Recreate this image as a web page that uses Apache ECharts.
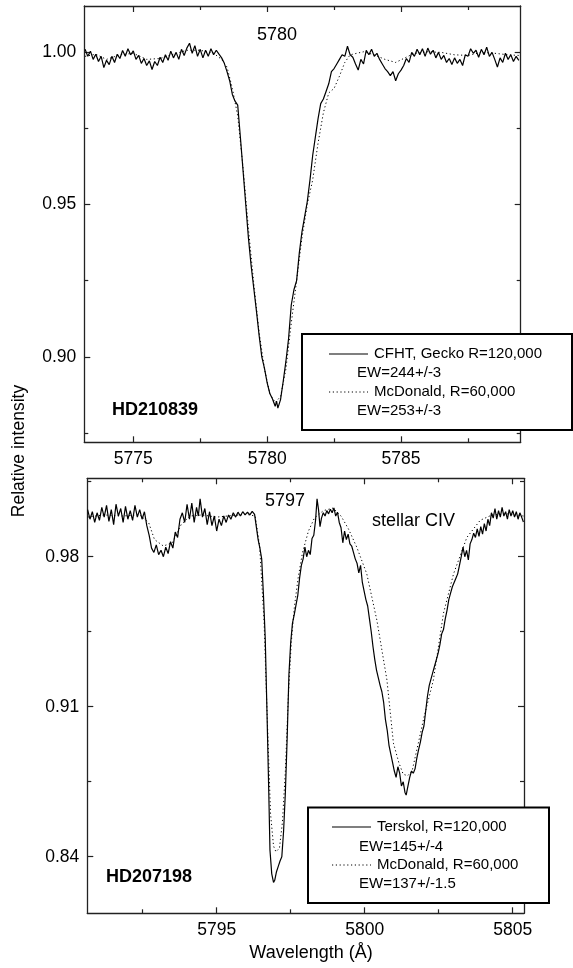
<!DOCTYPE html>
<html>
<head>
<meta charset="utf-8">
<script src="https://cdn.jsdelivr.net/npm/echarts@6/dist/echarts.min.js"></script>
<style>
html,body{margin:0;padding:0;background:#fff;}
#c{width:573px;height:968px;}
</style>
</head>
<body>
<div id="c"></div>
<script>
// ---------- DATA ----------
// Top panel: HD210839, 5780 band
const topXMajor = [5775, 5780, 5785];
const topXMinor = [5777.5, 5782.5, 5787.5];
const topYMajor = [0.90, 0.95, 1.00];
const topYMinor = [0.875, 0.925, 0.975];
const topXRange = [5773.17, 5789.47];
const topYRange = [0.872, 1.015];

const topSolid = [
[5773.2,1.0008],[5773.3,0.9985],[5773.4,1.0002],[5773.5,0.9975],[5773.6,0.9992],[5773.7,0.9968],[5773.8,0.9985],[5773.9,0.9948],
[5774.0,0.9972],[5774.1,0.9958],[5774.2,0.9985],[5774.3,0.9965],[5774.4,0.9992],[5774.5,0.9978],[5774.6,1.0004],[5774.7,0.9985],
[5774.8,1.0010],[5774.9,0.9990],[5775.0,1.0003],[5775.1,0.9975],[5775.2,0.9988],[5775.3,0.9962],[5775.4,0.9978],[5775.5,0.9955],
[5775.6,0.9970],[5775.7,0.9942],[5775.8,0.9968],[5775.9,0.9955],[5776.0,0.9982],[5776.1,0.9965],[5776.2,0.9990],[5776.3,0.9972],
[5776.4,1.0002],[5776.5,0.9980],[5776.6,0.9998],[5776.7,0.9975],[5776.8,1.0008],[5776.9,0.9988],[5777.0,1.0012],[5777.1,1.0028],
[5777.2,0.9995],[5777.3,1.0020],[5777.4,0.9985],[5777.5,1.0008],[5777.6,0.9980],[5777.7,1.0005],[5777.8,0.9985],[5777.9,1.0010],
[5778.0,0.9990],[5778.1,1.0005],[5778.2,0.9992],[5778.3,0.9980],[5778.4,0.9962],[5778.5,0.9935],[5778.6,0.9905],[5778.7,0.9860],
[5778.8,0.9838],[5778.9,0.9825],[5779.0,0.9720],[5779.1,0.9610],[5779.2,0.9500],[5779.3,0.9390],[5779.4,0.9300],[5779.5,0.9225],
[5779.6,0.9150],[5779.7,0.9070],[5779.8,0.9000],[5779.9,0.8962],[5780.0,0.8915],[5780.1,0.8880],[5780.2,0.8862],[5780.3,0.8838],
[5780.35,0.8855],[5780.4,0.8832],[5780.5,0.8860],[5780.6,0.8920],[5780.7,0.8985],[5780.8,0.9060],[5780.9,0.9170],[5781.0,0.9220],
[5781.1,0.9250],[5781.2,0.9340],[5781.3,0.9410],[5781.4,0.9460],[5781.5,0.9510],[5781.6,0.9580],[5781.7,0.9660],[5781.8,0.9720],
[5781.9,0.9780],[5782.0,0.9830],[5782.1,0.9845],[5782.2,0.9870],[5782.3,0.9895],[5782.4,0.9935],[5782.5,0.9945],[5782.6,0.9960],
[5782.7,0.9975],[5782.8,0.9990],[5782.9,0.9985],[5783.0,1.0018],[5783.1,0.9990],[5783.2,0.9982],[5783.3,0.9960],[5783.4,0.9940],
[5783.5,0.9975],[5783.6,0.9960],[5783.7,1.0005],[5783.8,0.9990],[5783.9,1.0008],[5784.0,0.9985],[5784.1,0.9995],[5784.2,0.9975],
[5784.3,0.9960],[5784.4,0.9945],[5784.5,0.9935],[5784.6,0.9922],[5784.7,0.9935],[5784.8,0.9905],[5784.9,0.9928],[5785.0,0.9940],
[5785.1,0.9955],[5785.2,0.9978],[5785.3,0.9965],[5785.4,0.9998],[5785.5,0.9985],[5785.6,1.0008],[5785.7,0.9990],[5785.8,1.0010],
[5785.9,0.9985],[5786.0,1.0012],[5786.1,0.9992],[5786.2,1.0005],[5786.3,0.9980],[5786.4,0.9998],[5786.5,0.9975],[5786.6,0.9988],
[5786.7,0.9965],[5786.8,0.9978],[5786.9,0.9958],[5787.0,0.9980],[5787.1,0.9962],[5787.2,0.9975],[5787.3,0.9955],[5787.4,0.9990],
[5787.5,0.9985],[5787.6,1.0010],[5787.7,0.9995],[5787.8,1.0005],[5787.9,0.9982],[5788.0,1.0008],[5788.1,0.9990],[5788.2,1.0015],
[5788.3,0.9985],[5788.4,0.9998],[5788.5,0.9975],[5788.6,0.9950],[5788.7,0.9980],[5788.8,0.9965],[5788.9,0.9995],[5789.0,0.9975],
[5789.1,0.9990],[5789.2,0.9968],[5789.3,0.9985],[5789.4,0.9972]
];

const topDotted = [
[5773.2,0.9985],[5773.6,0.9992],[5774.0,0.9975],[5774.5,0.9990],[5775.0,0.9995],[5775.5,0.9975],[5776.0,0.9978],[5776.5,0.9992],
[5777.0,1.0005],[5777.5,1.0005],[5778.0,0.9995],[5778.3,0.9975],[5778.5,0.9950],[5778.7,0.9880],[5778.9,0.9790],[5779.1,0.9620],
[5779.3,0.9420],[5779.5,0.9240],[5779.7,0.9080],[5779.9,0.8960],[5780.1,0.8880],[5780.3,0.8850],[5780.5,0.8870],[5780.7,0.8960],
[5780.9,0.9110],[5781.1,0.9250],[5781.3,0.9390],[5781.5,0.9500],[5781.7,0.9580],[5781.9,0.9700],[5782.1,0.9800],[5782.3,0.9865],
[5782.5,0.9880],[5782.7,0.9920],[5782.9,0.9965],[5783.1,0.9990],[5783.6,1.0000],[5784.0,0.9990],[5784.4,0.9975],[5784.8,0.9965],
[5785.1,0.9978],[5785.5,0.9995],[5786.0,1.0000],[5786.5,0.9998],[5787.0,0.9990],[5787.5,0.9988],[5788.0,0.9998],[5788.5,0.9995],
[5789.0,0.9990],[5789.4,0.9988]
];

// Bottom panel: HD207198, 5797 band + stellar CIV
const botXMajor = [5795, 5800, 5805];
const botXMinor = [5792.5, 5797.5, 5802.5];
const botYMajor = [0.84, 0.91, 0.98];
const botYMinor = [0.875, 0.945, 1.015];
const botXRange = [5790.63, 5805.38];
const botYRange = [0.8136, 1.0166];

const botSolid = [
[5790.64,1.0020],[5790.72,0.9975],[5790.80,1.0010],[5790.88,0.9960],[5790.96,1.0005],[5791.04,0.9970],[5791.12,1.0030],[5791.20,0.9985],
[5791.28,1.0040],[5791.36,0.9965],[5791.44,1.0020],[5791.52,0.9950],[5791.60,1.0045],[5791.68,0.9990],[5791.76,1.0025],[5791.84,0.9960],
[5791.92,1.0035],[5792.00,0.9975],[5792.08,1.0015],[5792.16,0.9970],[5792.24,1.0040],[5792.32,0.9985],[5792.40,1.0020],[5792.48,0.9975],
[5792.56,1.0010],[5792.64,0.9945],[5792.72,0.9900],[5792.80,0.9840],[5792.88,0.9820],[5792.96,0.9855],[5793.04,0.9810],[5793.12,0.9830],
[5793.20,0.9800],[5793.28,0.9845],[5793.36,0.9815],[5793.44,0.9870],[5793.52,0.9840],[5793.60,0.9915],[5793.68,0.9890],[5793.76,0.9975],
[5793.84,1.0005],[5793.92,0.9960],[5794.00,1.0045],[5794.08,0.9975],[5794.16,1.0050],[5794.24,0.9960],[5794.32,1.0030],[5794.38,0.9990],
[5794.44,1.0070],[5794.52,0.9985],[5794.60,1.0025],[5794.68,0.9950],[5794.76,1.0010],[5794.84,0.9945],[5794.92,0.9990],[5795.00,0.9920],
[5795.08,0.9975],[5795.16,0.9945],[5795.24,0.9990],[5795.32,0.9960],[5795.40,0.9995],[5795.48,0.9975],[5795.56,1.0005],[5795.64,0.9985],
[5795.72,1.0008],[5795.80,0.9990],[5795.88,1.0010],[5795.96,0.9995],[5796.04,1.0008],[5796.12,0.9995],[5796.20,1.0012],[5796.28,0.9998],
[5796.34,1.0005],[5796.40,0.9880],[5796.46,0.9840],[5796.52,0.9790],[5796.58,0.9620],[5796.64,0.9420],[5796.70,0.9070],[5796.76,0.8700],
[5796.80,0.8430],[5796.86,0.8320],[5796.92,0.8280],[5796.96,0.8290],[5797.02,0.8330],[5797.08,0.8355],[5797.14,0.8380],[5797.20,0.8400],
[5797.26,0.8520],[5797.32,0.8700],[5797.38,0.8950],[5797.44,0.9250],[5797.50,0.9400],[5797.56,0.9490],[5797.62,0.9530],[5797.68,0.9575],
[5797.74,0.9620],
[5797.80,0.9700],[5797.86,0.9760],[5797.92,0.9790],[5797.98,0.9845],[5798.04,0.9800],[5798.10,0.9830],[5798.16,0.9810],[5798.22,0.9885],
[5798.28,0.9900],[5798.34,0.9970],[5798.39,1.0070],[5798.44,1.0020],[5798.49,0.9940],[5798.54,0.9980],[5798.60,1.0005],[5798.66,0.9990],
[5798.72,1.0015],[5798.78,1.0000],[5798.84,1.0022],[5798.90,1.0005],[5798.96,1.0028],[5799.02,0.9990],[5799.08,1.0008],[5799.14,0.9960],
[5799.20,0.9935],[5799.26,0.9865],[5799.32,0.9920],[5799.38,0.9880],[5799.44,0.9905],[5799.50,0.9860],[5799.56,0.9850],[5799.62,0.9820],
[5799.68,0.9790],[5799.74,0.9770],[5799.80,0.9725],[5799.86,0.9760],[5799.92,0.9680],[5799.98,0.9640],[5800.04,0.9600],[5800.10,0.9570],
[5800.16,0.9510],[5800.22,0.9450],[5800.28,0.9380],[5800.34,0.9320],[5800.40,0.9270],[5800.46,0.9235],[5800.52,0.9200],[5800.58,0.9170],
[5800.64,0.9120],[5800.70,0.9040],[5800.76,0.8990],[5800.82,0.8920],[5800.88,0.8880],[5800.94,0.8840],[5801.00,0.8800],[5801.06,0.8770],
[5801.12,0.8820],[5801.18,0.8790],[5801.24,0.8730],[5801.30,0.8750],[5801.36,0.8700],[5801.40,0.8688],[5801.46,0.8730],[5801.52,0.8770],
[5801.58,0.8800],[5801.64,0.8790],[5801.70,0.8810],[5801.76,0.8860],[5801.82,0.8900],[5801.88,0.8935],[5801.94,0.8980],[5802.00,0.9010],
[5802.06,0.9080],[5802.12,0.9150],[5802.18,0.9200],[5802.24,0.9230],[5802.30,0.9260],[5802.36,0.9290],[5802.42,0.9320],[5802.48,0.9350],
[5802.54,0.9390],[5802.60,0.9440],[5802.66,0.9460],[5802.72,0.9510],[5802.78,0.9550],[5802.84,0.9600],[5802.90,0.9630],[5802.96,0.9660],
[5803.02,0.9680],[5803.08,0.9700],[5803.14,0.9720],[5803.20,0.9760],[5803.26,0.9800],[5803.32,0.9845],[5803.38,0.9800],[5803.44,0.9830],
[5803.50,0.9785],[5803.56,0.9860],[5803.62,0.9880],[5803.68,0.9910],[5803.74,0.9890],[5803.80,0.9930],[5803.86,0.9895],[5803.92,0.9940],
[5803.98,0.9905],[5804.04,0.9955],[5804.10,0.9920],[5804.16,0.9975],[5804.22,0.9945],[5804.28,1.0005],[5804.34,0.9980],[5804.40,1.0025],
[5804.46,0.9975],[5804.52,1.0015],[5804.58,0.9985],[5804.64,1.0030],[5804.70,0.9990],[5804.76,1.0010],[5804.82,0.9975],[5804.88,1.0020],
[5804.94,0.9990],[5805.00,1.0015],[5805.06,0.9985],[5805.12,1.0010],[5805.18,0.9975],[5805.24,1.0005],[5805.30,0.9985],[5805.36,0.9962]
];

const botDotted = [
[5790.64,0.9985],[5791.2,0.9995],[5791.8,0.9990],[5792.4,0.9995],[5792.7,0.9960],[5792.9,0.9880],[5793.2,0.9850],[5793.5,0.9865],
[5793.8,0.9950],[5794.1,0.9990],[5794.5,0.9995],[5795.0,0.9985],[5795.5,0.9992],[5796.0,0.9998],[5796.3,0.9990],[5796.45,0.9850],
[5796.6,0.9500],[5796.72,0.9000],[5796.82,0.8600],[5796.92,0.8450],[5797.0,0.8423],[5797.12,0.8440],[5797.22,0.8560],[5797.32,0.8800],
[5797.42,0.9150],[5797.52,0.9400],[5797.62,0.9560],[5797.75,0.9700],[5797.9,0.9820],[5798.1,0.9920],[5798.3,0.9980],[5798.6,1.0015],
[5798.93,1.0027],[5799.2,0.9990],[5799.45,0.9930],[5799.73,0.9845],[5800.07,0.9720],[5800.41,0.9504],[5800.75,0.9225],[5800.97,0.8930],
[5801.15,0.8840],[5801.3,0.8785],[5801.45,0.8778],[5801.6,0.8800],[5801.81,0.8930],[5802.0,0.9050],[5802.32,0.9225],[5802.66,0.9536],
[5803.0,0.9720],[5803.45,0.9890],[5803.9,0.9970],[5804.3,0.9995],[5804.8,1.0000],[5805.1,0.9995],[5805.36,0.9990]
];

// ---------- CHART ----------
const FONT = '"Liberation Sans", Arial, sans-serif';
const AXC = '#222';
const chart = echarts.init(document.getElementById('c'), null, {renderer: 'canvas'});

function xAxes(grid, range, major, minor, fmt) {
  const base = {type: 'value', gridIndex: grid, min: range[0], max: range[1], splitLine: {show: false}};
  return [
    Object.assign({}, base, {position: 'bottom', axisLine: {show: true, onZero: false, lineStyle: {color: AXC, width: 1.3}},
      axisTick: {show: true, inside: true, length: 6, customValues: major, lineStyle: {color: AXC, width: 1.2}},
      axisLabel: {show: true, customValues: major, formatter: fmt, margin: 8, color: '#000', fontFamily: FONT, fontSize: 17.5}}),
    Object.assign({}, base, {position: 'bottom', axisLine: {show: false, onZero: false},
      axisTick: {show: true, inside: true, length: 4, customValues: minor, lineStyle: {color: AXC, width: 1.2}},
      axisLabel: {show: false}}),
    Object.assign({}, base, {position: 'top', axisLine: {show: true, onZero: false, lineStyle: {color: AXC, width: 1.3}},
      axisTick: {show: true, inside: true, length: 6, customValues: major, lineStyle: {color: AXC, width: 1.2}},
      axisLabel: {show: false}}),
    Object.assign({}, base, {position: 'top', axisLine: {show: false, onZero: false},
      axisTick: {show: true, inside: true, length: 4, customValues: minor, lineStyle: {color: AXC, width: 1.2}},
      axisLabel: {show: false}})
  ];
}
function yAxes(grid, range, major, minor, fmt) {
  const base = {type: 'value', gridIndex: grid, min: range[0], max: range[1], splitLine: {show: false}};
  return [
    Object.assign({}, base, {position: 'left', axisLine: {show: true, onZero: false, lineStyle: {color: AXC, width: 1.3}},
      axisTick: {show: true, inside: true, length: 6, customValues: major, lineStyle: {color: AXC, width: 1.2}},
      axisLabel: {show: true, customValues: major, formatter: fmt, margin: 8, color: '#000', fontFamily: FONT, fontSize: 17.5}}),
    Object.assign({}, base, {position: 'left', axisLine: {show: false, onZero: false},
      axisTick: {show: true, inside: true, length: 4, customValues: minor, lineStyle: {color: AXC, width: 1.2}},
      axisLabel: {show: false}}),
    Object.assign({}, base, {position: 'right', axisLine: {show: true, onZero: false, lineStyle: {color: AXC, width: 1.3}},
      axisTick: {show: true, inside: true, length: 6, customValues: major, lineStyle: {color: AXC, width: 1.2}},
      axisLabel: {show: false}}),
    Object.assign({}, base, {position: 'right', axisLine: {show: false, onZero: false},
      axisTick: {show: true, inside: true, length: 4, customValues: minor, lineStyle: {color: AXC, width: 1.2}},
      axisLabel: {show: false}})
  ];
}
const fx = v => Math.round(v).toString();
const fy = v => v.toFixed(2);

const solidStyle = {color: '#000', width: 1.2, type: 'solid'};
const dotStyle = {color: '#000', width: 1, type: [1.2, 2.6]};
function line(data, xi, yi, style, z) {
  return {type: 'line', data: data, xAxisIndex: xi, yAxisIndex: yi, showSymbol: false, symbol: 'none',
    smooth: false, lineStyle: style, itemStyle: {color: '#000'}, animation: false, z: z, silent: true};
}

function txt(x, y, s, opts) {
  return Object.assign({type: 'text', x: x, y: y, z: 110,
    style: Object.assign({text: s, fill: '#000', font: '15px ' + FONT, textVerticalAlign: 'middle', textAlign: 'left'}, opts || {})});
}
function seg(x1, x2, y, dotted) {
  return {type: 'line', z: 110, shape: {x1: x1, y1: y, x2: x2, y2: y},
    style: {stroke: '#000', lineWidth: dotted ? 1 : 1.2, lineDash: dotted ? [1.2, 2.6] : null}};
}

const option = {
  backgroundColor: '#fff',
  animation: false,
  grid: [
    {left: 84.3, top: 6, width: 436.4, height: 436.3},
    {left: 87.3, top: 478.3, width: 436.7, height: 435}
  ],
  xAxis: [].concat(xAxes(0, topXRange, topXMajor, topXMinor, fx), xAxes(1, botXRange, botXMajor, botXMinor, fx)),
  yAxis: [].concat(yAxes(0, topYRange, topYMajor, topYMinor, fy), yAxes(1, botYRange, botYMajor, botYMinor, fy)),
  series: [
    line(topDotted, 0, 0, dotStyle, 2),
    line(topSolid, 0, 0, solidStyle, 3),
    line(botDotted, 4, 4, dotStyle, 2),
    line(botSolid, 4, 4, solidStyle, 3)
  ],
  graphic: [
    // annotations
    txt(277, 35, '5780', {font: '18px ' + FONT, textAlign: 'center'}),
    txt(112, 410, 'HD210839', {font: 'bold 18px ' + FONT}),
    txt(285, 501, '5797', {font: '18px ' + FONT, textAlign: 'center'}),
    txt(372, 521, 'stellar CIV', {font: '18px ' + FONT}),
    txt(106, 877, 'HD207198', {font: 'bold 18px ' + FONT}),
    // axis titles
    {type: 'text', x: 19, y: 451, rotation: Math.PI / 2, z: 110,
      style: {text: 'Relative intensity', fill: '#000', font: '17.5px ' + FONT, textAlign: 'center', textVerticalAlign: 'middle'}},
    txt(311, 953, 'Wavelength (\u00C5)', {font: '18px ' + FONT, textAlign: 'center'}),
    // top legend box
    {type: 'rect', z: 105, shape: {x: 302, y: 334, width: 270, height: 96},
      style: {fill: '#fff', stroke: '#000', lineWidth: 2}},
    seg(329, 368, 354, false),
    txt(374, 354, 'CFHT, Gecko R=120,000'),
    txt(357, 373, 'EW=244+/-3'),
    seg(329, 368, 392, true),
    txt(374, 392, 'McDonald, R=60,000'),
    txt(357, 411, 'EW=253+/-3'),
    // bottom legend box
    {type: 'rect', z: 105, shape: {x: 308, y: 807.5, width: 241, height: 95.5},
      style: {fill: '#fff', stroke: '#000', lineWidth: 2}},
    seg(332, 371, 827, false),
    txt(377, 827, 'Terskol, R=120,000'),
    txt(359, 847, 'EW=145+/-4'),
    seg(332, 371, 865, true),
    txt(377, 865, 'McDonald, R=60,000'),
    txt(359, 884, 'EW=137+/-1.5')
  ]
};
chart.setOption(option);
</script>
</body>
</html>
